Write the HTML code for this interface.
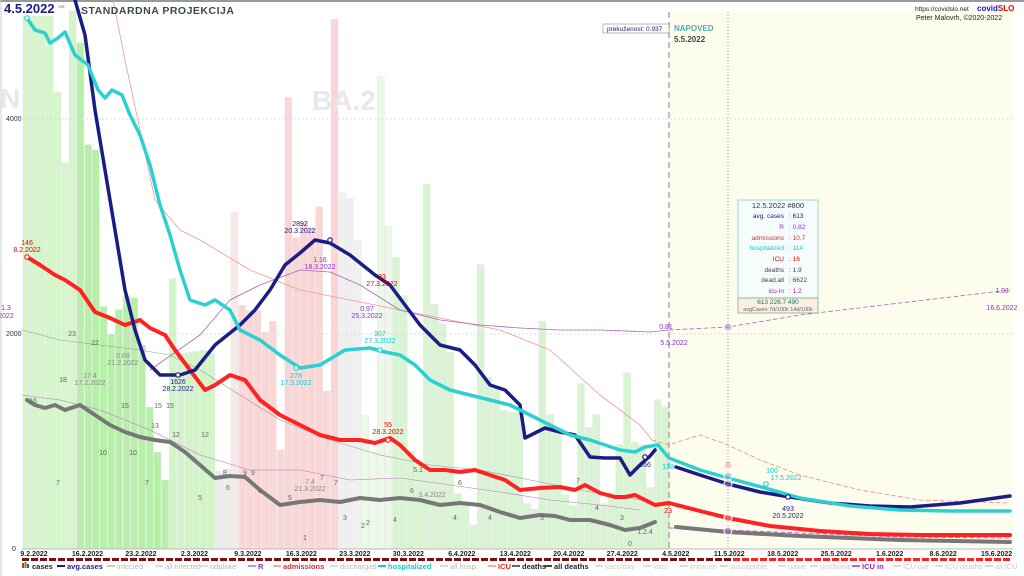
<!DOCTYPE html>
<html><head><meta charset="utf-8"><style>
body{margin:0;background:#fff;}
svg{display:block;font-family:"Liberation Sans",sans-serif;}
</style></head><body>
<svg id="s" width="1024" height="576" viewBox="0 0 1024 576" xmlns="http://www.w3.org/2000/svg">
<rect width="1024" height="576" fill="#fff"/>
<line x1="0" y1="1" x2="1024" y2="1" stroke="#999" stroke-width="2"/>
<line x1="1" y1="0" x2="1" y2="576" stroke="#ccc"/>
<rect x="669" y="12" width="344" height="537" fill="#fdfdee"/>
<g id="bars"></g>
<text x="0" y="108" font-size="28" font-weight="bold" fill="#e8e8e8">N</text>
<text x="312" y="110" font-size="28" font-weight="bold" fill="#e8e8e8">BA.2</text>
<g stroke="#ddd" stroke-dasharray="2,2"><line x1="22" y1="119" x2="1013" y2="119"/><line x1="22" y1="334" x2="1013" y2="334"/></g>
<line x1="22" y1="549" x2="1013" y2="549" stroke="#bbb"/>
<g font-size="7" fill="#333"><text x="6" y="121">4000</text><text x="6" y="336">2000</text><text x="12" y="551">0</text></g>
<line x1="669" y1="12" x2="669" y2="549" stroke="#aaa" stroke-dasharray="6,4" stroke-width="1.5"/>
<line x1="728" y1="12" x2="728" y2="549" stroke="#999" stroke-dasharray="1,2"/>
<g id="lines" fill="none" stroke-linejoin="round" stroke-linecap="round"></g>
<g font-size="7" text-anchor="middle" id="lbl">
<text x="27" y="245" fill="#e00">146</text><text x="27" y="252" fill="#e00">8.2.2022</text>
<text x="178" y="384" fill="#1a1a80">1626</text><text x="178" y="391" fill="#1a1a80">28.2.2022</text>
<text x="300" y="226" fill="#1a1a80">2892</text><text x="300" y="233" fill="#1a1a80">20.3.2022</text>
<text x="320" y="262" fill="#83c">1.16</text><text x="320" y="269" fill="#83c">18.3.2022</text>
<text x="382" y="279" fill="#e00">33</text><text x="382" y="286" fill="#e00">27.3.2022</text>
<text x="367" y="311" fill="#83c">0.97</text><text x="367" y="318" fill="#83c">25.3.2022</text>
<text x="380" y="336" fill="#1cc">307</text><text x="380" y="343" fill="#1cc">27.3.2022</text>
<text x="296" y="378" fill="#1cc">278</text><text x="296" y="385" fill="#1cc">17.3.2022</text>
<text x="388" y="427" fill="#e00">55</text><text x="388" y="434" fill="#e00">28.3.2022</text>
<text x="123" y="358" fill="#888">0.68</text><text x="123" y="365" fill="#888">21.2.2022</text>
<text x="90" y="378" fill="#888">17.4</text><text x="90" y="385" fill="#888">17.2.2022</text>
<text x="310" y="484" fill="#888">7.4</text><text x="310" y="491" fill="#888">21.3.2022</text>
<text x="432" y="497" fill="#888">3.4.2022</text>
<text x="645" y="467" fill="#1a1a80">856</text>
<text x="668" y="469" fill="#1cc">138</text>
<text x="668" y="513" fill="#e00">23</text>
<text x="666" y="329" fill="#83c">0.81</text><text x="674" y="345" fill="#83c">5.5.2022</text>
<text x="772" y="473" fill="#1cc">100</text><text x="786" y="480" fill="#1cc">17.5.2022</text>
<text x="788" y="511" fill="#1a1a80">493</text><text x="788" y="518" fill="#1a1a80">20.5.2022</text>
<text x="1002" y="293" fill="#83c">1.03</text><text x="1002" y="310" fill="#83c">16.6.2022</text>
<text x="6" y="310" fill="#83c">1.3</text><text x="6" y="318" fill="#83c">2022</text>
</g>
<g font-size="7" fill="#666" text-anchor="middle">
<text x="33" y="403">16</text><text x="63" y="382">18</text><text x="72" y="336">23</text><text x="95" y="345">22</text><text x="125" y="408">15</text><text x="158" y="408">15</text><text x="170" y="408">15</text><text x="155" y="428">13</text><text x="176" y="437">12</text><text x="205" y="437">12</text><text x="103" y="455">10</text><text x="133" y="455">10</text><text x="58" y="485">7</text><text x="147" y="485">7</text><text x="225" y="475">8</text><text x="245" y="475">9</text><text x="253" y="475">9</text><text x="200" y="500">5</text><text x="228" y="490">6</text><text x="260" y="493">6</text><text x="290" y="500">5</text><text x="322" y="480">7</text><text x="336" y="485">7</text><text x="412" y="493">6</text><text x="418" y="472">5.1</text><text x="460" y="485">6</text><text x="578" y="483">7</text><text x="345" y="520">3</text><text x="368" y="525">2</text><text x="305" y="540">1</text><text x="363" y="528">2</text><text x="395" y="522">4</text><text x="455" y="520">4</text><text x="490" y="520">4</text><text x="542" y="520">3</text><text x="597" y="510">4</text><text x="622" y="520">3</text><text x="630" y="546">0</text><text x="645" y="534">1.2.4</text>
</g>
<g font-size="7" fill="#222" text-anchor="middle" font-weight="bold" id="dates"></g>
<g id="dash"></g>
<g id="leg" font-size="7.5"></g>
<text x="4" y="13" font-size="13" font-weight="bold" fill="#1a1a80">4.5.2022</text>
<text x="58" y="8" font-size="4" fill="#666">SIR</text>
<text x="81" y="14" font-size="10.5" font-weight="bold" fill="#3a4a4a" letter-spacing="0.5">STANDARDNA PROJEKCIJA</text>
<text x="915" y="11" font-size="6.5" fill="#222">https://covidslo.net</text>
<text x="977" y="11" font-size="8" font-weight="bold" fill="#1010ee">covid<tspan fill="#e00">SLO</tspan></text>
<text x="916" y="20" font-size="7" fill="#222">Peter Malovrh, ©2020-2022</text>
<rect x="603" y="24" width="66" height="9" fill="#fff" stroke="#888" stroke-width="0.6"/>
<text x="607" y="31" font-size="6.5" fill="#1a1a80">prekuženost: 0.937</text>
<text x="674" y="31" font-size="8" font-weight="bold" fill="#5aa">NAPOVED</text>
<text x="674" y="42" font-size="8" font-weight="bold" fill="#3a4a4a">5.5.2022</text>
<rect x="738" y="200" width="80" height="98" fill="#f6fcfc" stroke="#8cc" stroke-width="0.8"/>
<rect x="738" y="298" width="80" height="15" fill="#fbeee2" stroke="#8a8" stroke-width="0.8"/>
<g font-size="6.5">
<text x="778" y="208" text-anchor="middle" fill="#333" font-size="7.5">12.5.2022 #800</text>
<g text-anchor="end"><text x="784" y="218" fill="#1a1a80">avg. cases</text><text x="784" y="229" fill="#83c">R</text><text x="784" y="240" fill="#c33">admissions</text><text x="784" y="250" fill="#1cc">hospitalized</text><text x="784" y="261" fill="#e00">ICU</text><text x="784" y="272" fill="#444">deaths</text><text x="784" y="282" fill="#444">dead.all</text><text x="784" y="293" fill="#a2a">icu-in</text></g>
<text x="789" y="218" fill="#1a1a80">:  613</text><text x="789" y="229" fill="#83c">:  0.82</text><text x="789" y="240" fill="#c33">:  10.7</text><text x="789" y="250" fill="#1cc">:  114</text><text x="789" y="261" fill="#e00">:  16</text><text x="789" y="272" fill="#444">:  1.9</text><text x="789" y="282" fill="#444">:  6622</text><text x="789" y="293" fill="#a2a">:  1.2</text>
<text x="778" y="304" text-anchor="middle" fill="#176">613  226.7  490</text>
<text x="778" y="311" text-anchor="middle" fill="#666" font-size="5.5">avgCases 7d/100k 14d/100k</text>
</g>
</svg>
<script>
const NS="http://www.w3.org/2000/svg";
function el(t,a,p){const e=document.createElementNS(NS,t);for(const k in a)e.setAttribute(k,a[k]);(p||document.getElementById('s')).appendChild(e);return e;}
const X=d=>34+7.64*d;
const bars=document.getElementById('bars');
const tops=[15,15,15,15,86,152,10,40,135,140,286,312,289,276,278,322,380,422,448,260,330,329,328,327,330,440,438,198,285,290,290,310,300,420,91,222,208,213,193,365,18,180,185,224,388,422,71,211,240,276,421,432,172,284,302,329,461,470,490,247,352,360,383,385,385,470,475,300,387,400,462,472,358,399,387,470,460,415,348,413,415,455,373,380];
tops.forEach((t,i)=>{const x=23+7.7*i;const y=Math.min(545,t*1.0714);let c;
 if(i<7)c='#d4f6ca';else if(i<19)c='#b6f0a8';else if(i<25)c='#d2f5c8';else if(i<27)c='#ececec';else if(i==27)c='#f8e8e8';else if(i<41)c='#fad6d6';else if(i<44)c='#f0f0f0';else if(i<48)c='#ecf9e8';else c='#d9f4d2';
 el('rect',{x:x,y:y,width:7,height:549-y,fill:c,stroke:'#e4e4e4','stroke-width':0.4},bars);});
const L=document.getElementById('lines');
function pl(pts,st,w,da){const a={points:pts.map(p=>p.join(',')).join(' '),stroke:st,'stroke-width':w};if(da)a['stroke-dasharray']=da;return el('polyline',a,L);}
pl([[113,0],[125,60],[140,130],[155,200],[180,230],[200,240],[250,270],[300,290],[350,300],[400,310],[450,320],[500,330],[550,350],[600,395],[640,425],[652,440]],'#e99',0.8);
pl([[652,440],[669,445],[700,435],[728,445],[760,460],[800,475],[860,490],[920,500],[1010,503]],'#e88',0.8,'4,3');
pl([[22,330],[60,340],[100,345],[140,350],[170,355],[200,370],[240,395],[280,420],[330,440],[380,455],[430,465],[480,470],[530,480],[580,490],[640,500]],'#999',0.6);
pl([[22,395],[60,400],[100,410],[150,430],[200,455],[250,470],[300,470],[350,480],[400,478],[450,485],[500,492],[550,500],[600,505],[640,510]],'#b7b',0.6);
pl([[150,370],[200,335],[230,300],[260,285],[300,270],[330,272],[360,285],[400,310],[440,320],[480,325],[520,328],[560,330],[600,330],[650,332],[669,330]],'#a6b',0.8);
pl([[669,330],[728,327],[800,315],[900,303],[1010,290]],'#a6b',0.8,'4,3');
pl([[669,528],[728,530],[800,533],[900,537],[1010,538]],'#b6c',1,'4,3');
pl([[27,400],[35,405],[45,408],[55,405],[65,410],[80,405],[95,415],[110,425],[125,432],[140,437],[155,440],[170,442],[185,452],[200,465],[215,478],[230,476],[245,477],[260,490],[280,505],[300,502],[320,500],[340,502],[360,498],[380,500],[400,498],[420,500],[440,505],[460,503],[480,505],[500,512],[520,518],[540,515],[555,516],[570,520],[590,520],[610,525],[625,530],[640,528],[655,522]],'#777',4);
pl([[676,527],[728,532],[800,536],[900,540],[1010,542]],'#777',4);
pl([[27,257],[40,265],[55,275],[65,280],[80,290],[95,312],[110,318],[125,325],[140,320],[150,328],[165,335],[175,350],[190,370],[205,390],[215,385],[230,375],[245,380],[260,400],[280,415],[300,425],[320,435],[340,440],[360,440],[375,443],[390,438],[400,445],[415,460],[430,470],[445,470],[460,472],[475,470],[490,475],[505,480],[520,490],[540,488],[560,487],[575,490],[585,485],[600,493],[615,497],[625,497],[635,495],[645,500],[655,505],[669,503],[700,511],[728,518],[770,526],[820,531],[870,534],[920,535],[1010,535]],'#f22',4);
pl([[75,0],[85,35],[95,110],[105,170],[115,230],[125,290],[135,330],[145,360],[160,375],[180,375],[195,370],[215,345],[240,325],[255,310],[270,290],[285,265],[300,253],[315,240],[330,243],[350,255],[375,275],[390,285],[405,305],[420,325],[440,345],[460,350],[475,365],[490,385],[505,390],[520,405],[525,438],[535,433],[545,428],[560,432],[575,435],[590,457],[605,458],[620,458],[630,475],[640,465],[650,456],[655,450]],'#1c1c85',3.5);
pl([[676,467],[700,475],[728,484],[760,492],[790,497],[830,503],[870,506],[910,507],[960,503],[1010,496]],'#1c1c85',3.5);
pl([[27,18],[35,30],[45,33],[50,43],[58,38],[65,32],[75,55],[88,65],[98,90],[105,98],[112,90],[122,95],[130,115],[140,135],[150,165],[160,205],[170,235],[180,270],[190,300],[205,305],[215,300],[230,310],[240,330],[260,340],[280,355],[300,368],[320,365],[345,350],[370,348],[385,352],[400,355],[415,365],[430,380],[450,390],[470,395],[490,400],[510,405],[530,415],[550,425],[570,435],[590,440],[605,445],[620,450],[635,452],[645,447],[658,445],[669,458],[700,470],[728,478],[765,488],[800,498],[850,506],[900,510],[950,511],[1010,511]],'#2cd0d0',3.5);
[[27,18,'#2cd0d0'],[178,375,'#1c1c85'],[330,240,'#1c1c85'],[296,368,'#2cd0d0'],[380,350,'#2cd0d0'],[388,440,'#f22'],[27,257,'#f22'],[645,457,'#1c1c85'],[766,484,'#2cd0d0'],[788,497,'#1c1c85']].forEach(p=>el('circle',{cx:p[0],cy:p[1],r:2.2,fill:'#fff',stroke:p[2],'stroke-width':1.2},L));
[[728,465,'#e99'],[728,476,'#7ac'],[728,484,'#88a'],[728,518,'#f88'],[728,531,'#a7b'],[728,327,'#a7b']].forEach(p=>el('circle',{cx:p[0],cy:p[1],r:4,fill:p[2],'fill-opacity':0.5,stroke:'#fff','stroke-width':1},L));
const dl=['9.2.2022','16.2.2022','23.2.2022','2.3.2022','9.3.2022','16.3.2022','23.3.2022','30.3.2022','6.4.2022','13.4.2022','20.4.2022','27.4.2022','4.5.2022','11.5.2022','18.5.2022','25.5.2022','1.6.2022','8.6.2022','15.6.2022'];
const dg=document.getElementById('dates');
dl.forEach((t,i)=>{const e=el('text',{x:X(i*7),y:556},dg);e.textContent=t;});
const dsh=document.getElementById('dash');
for(let x=22;x<1010;x+=9){el('rect',{x:x,y:558,width:7,height:3,fill:x<728?'#7a1010':'#ff2020'},dsh);}
const lg=[['cases','#222',null],['avg.cases','#1c1c85','#1c1c85'],['infected','#bbb','#ccc'],['all infected','#bbb','#ddd'],['odplake','#bbb','#ddd'],['R','#83c','#b9d'],['admissions','#c33','#eaa'],['discharged','#bbb','#ddd'],['hospitalized','#1cc','#1cc'],['all hosp.','#bbb','#ddd'],['ICU','#f22','#faa'],['deaths','#222','#666'],['all deaths','#222','#444'],['vacc/day','#ccc','#ddd'],['vacc','#ccc','#ddd'],['immune','#ccc','#ddd'],['susceptible','#ccc','#ddd'],['naive','#ccc','#ddd'],['nonNaive','#ccc','#ddd'],['ICU in','#a2a','#b6c'],['ICU out','#ccc','#ddd'],['ICU deaths','#ccc','#ddd'],['all ICU','#ccc','#ddd']];
const xs=[22,57,107,155,200,248,273,330,378,440,488,512,544,595,643,680,720,778,810,852,893,935,985];
const G=document.getElementById('leg');
lg.forEach((l,i)=>{const x=xs[i];
 if(l[2]){el('line',{x1:x,y1:566,x2:x+8,y2:566,stroke:l[2],'stroke-width':2},G);}
 else{el('rect',{x:x,y:563,width:2,height:5,fill:'#e22'},G);el('rect',{x:x+2.5,y:562,width:2,height:6,fill:'#2a2'},G);el('rect',{x:x+5,y:564,width:2,height:4,fill:'#555'},G);}
 const t=el('text',{x:x+10,y:569,fill:l[1],'font-weight':(l[1]=='#bbb'||l[1]=='#ccc')?'normal':'bold'},G);t.textContent=l[0];});
</script>
</body></html>
